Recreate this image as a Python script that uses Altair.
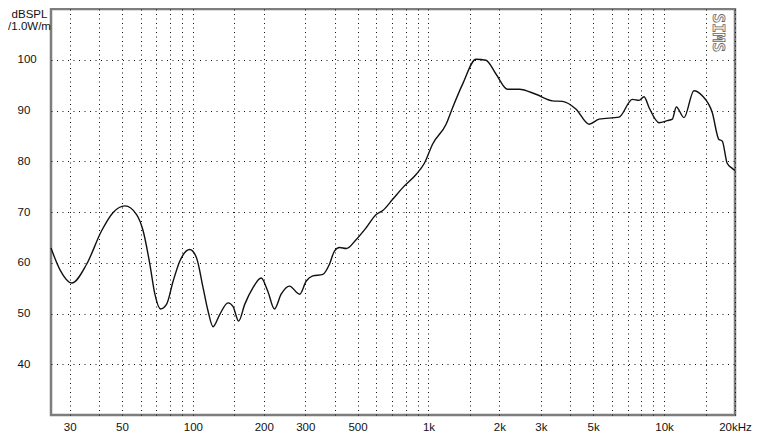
import altair as alt
import pandas as pd

# Frequency response curve (Hz, dB SPL / 1.0W/m)
freq = [25, 27.3, 30.6, 35.4, 41.0, 45.9, 51.5, 57.7, 61.5, 65.7, 69.0, 72.9, 77.3,
        82.5, 88.0, 97.0, 103.6, 110.5, 116, 121.8, 130, 141, 148, 156.5, 166,
        180, 195, 208, 222, 237, 257, 284, 303, 323, 356, 380, 399, 419, 448,
        494, 544, 600, 640, 705, 778, 886, 961, 1042, 1188, 1267, 1396, 1592,
        1755, 1934, 2166, 2428, 2857, 3360, 3705, 4222, 4808, 5300, 6441, 7335,
        7832, 8222, 8632, 9515, 10320, 10840, 11270, 12150, 13390, 14520, 16010,
        17090, 17650, 18530, 19460, 20000]
spl = [62.9, 58.6, 56.0, 59.7, 66.3, 69.9, 71.2, 69.5, 66.3, 59.7, 53.8, 50.9, 51.8,
       56.4, 60.3, 62.6, 61.0, 55.1, 50.5, 47.4, 49.8, 52.1, 51.4, 48.5, 51.8,
       55.1, 57.0, 54.4, 50.9, 53.8, 55.4, 53.8, 56.4, 57.4, 57.7, 59.7, 62.3,
       63.0, 62.8, 64.6, 66.9, 69.5, 70.3, 72.5, 74.8, 77.4, 79.6, 83.4, 87.3,
       90.6, 95.2, 100.1, 99.9, 97.2, 94.2, 94.2, 93.2, 91.9, 91.8, 90.3, 87.3,
       88.3, 88.7, 92.2, 92.0, 92.7, 90.6, 87.6, 88.0, 88.3, 90.7, 88.6, 93.9,
       92.9, 89.6, 84.3, 84.0, 79.6, 78.6, 78.2]

# Axis grids and labels
x_grid = [30, 40, 50, 60, 70, 80, 90, 100, 150, 200, 300, 400, 500, 600, 700,
          800, 900, 1000, 1500, 2000, 3000, 4000, 5000, 6000, 7000, 8000, 9000,
          10000, 15000, 20000]
x_labeled = [30, 50, 100, 200, 300, 500, 1000, 2000, 3000, 5000, 10000, 20000]
y_ticks = [40, 50, 60, 70, 80, 90, 100]
y_title = ["dBSPL", "/1.0W/m"]
mark_text = ["SIMS"]
mark_pos_freq = [16900]
mark_pos_db = [105.3]

df = pd.DataFrame({"f": freq, "db": spl})
df_mark = pd.DataFrame({"f": mark_pos_freq, "db": mark_pos_db, "t": mark_text})

lab_arr = "[" + ",".join(str(v) for v in x_labeled) + "]"
label_expr = (
    f"indexof({lab_arr}, datum.value) < 0 ? '' : "
    "datum.value == 20000 ? '20kHz' : "
    "datum.value >= 1000 ? (datum.value / 1000) + 'k' : '' + datum.value"
)

FONT = "Liberation Sans"

x_scale = alt.Scale(type="log", domain=[25, 20000], nice=False)
y_scale = alt.Scale(domain=[30, 110], nice=False, zero=False)

x_axis = alt.Axis(
    values=x_grid, labelExpr=label_expr, grid=True, gridDash=[1, 3.5],
    gridColor="#111", gridWidth=1, ticks=False, tickSize=0, domain=False,
    labelPadding=6, labelFlush=False, labelOverlap=False, labelFont=FONT,
    labelFontSize=11.5, labelColor="#111", title=None,
)
y_axis = alt.Axis(
    values=y_ticks, grid=True, gridDash=[1, 4.5], gridColor="#111", gridWidth=1,
    ticks=False, tickSize=0, domain=False, labelAlign="left", labelPadding=34,
    labelBaseline="middle", labelFont=FONT, labelFontSize=11.5, labelColor="#111",
    title=y_title, titleAngle=0, titleAlign="center", titleBaseline="top",
    titleX=-22, titleY=-1, titleFont=FONT, titleFontSize=11.5,
    titleFontWeight="normal", titleColor="#111", titleLineHeight=12,
)

line = alt.Chart(df).mark_line(color="#111", strokeWidth=1.4, interpolate="monotone").encode(
    x=alt.X("f:Q", scale=x_scale, axis=x_axis),
    y=alt.Y("db:Q", scale=y_scale, axis=y_axis),
)

label = alt.Chart(df_mark).mark_text(
    angle=90, font="DejaVu Sans Mono", fontSize=16, fontWeight="bold",
    fill="#ffffff", stroke="#666666", strokeWidth=0.8, align="center", baseline="middle",
).encode(
    x=alt.X("f:Q", scale=x_scale),
    y=alt.Y("db:Q", scale=y_scale),
    text="t:N",
)

chart = alt.layer(line, label).properties(
    width=684, height=406,
    padding={"left": 43, "top": 1, "right": 18, "bottom": 20},
    autosize=alt.AutoSizeParams(type="none"),
    background="#ffffff",
).configure_view(stroke="#7d7d7d", strokeWidth=2.5)

chart.save("out.html", embed_options={"renderer": "svg", "actions": False})
